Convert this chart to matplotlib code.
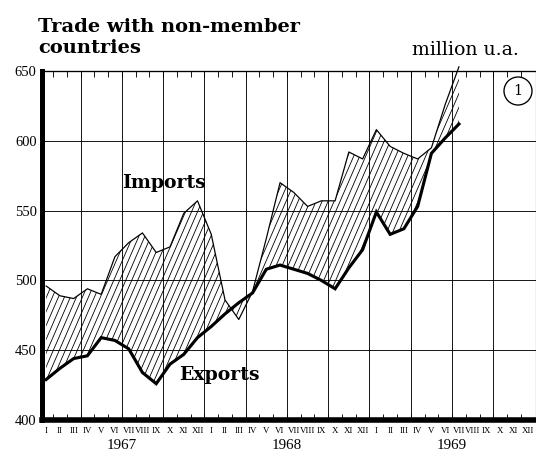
import matplotlib
matplotlib.use("Agg")
import matplotlib.pyplot as plt
from matplotlib.collections import LineCollection
from matplotlib.patches import Ellipse
import numpy as np

# monthly values, Jan 1967 .. Jul 1969 (million u.a.)
imports = [496, 489, 487, 494, 490, 517, 527, 534, 520, 524, 548, 557,
           533, 486, 472, 492, 530, 570, 563, 553, 557, 557, 592, 587,
           608, 596, 591, 587, 595, 626, 653]
exports = [429, 437, 444, 446, 459, 457, 451, 434, 426, 440, 447, 459,
           467, 476, 484, 491, 508, 511, 508, 505, 500, 494, 509, 522,
           549, 533, 537, 553, 591, 602, 612]
months = ['I', 'II', 'III', 'IV', 'V', 'VI', 'VII', 'VIII', 'IX', 'X', 'XI', 'XII']
years = ['1967', '1968', '1969']
yticks = [400, 450, 500, 550, 600, 650]

W, H, DPI = 536, 461, 80
fig = plt.figure(figsize=(W / DPI, H / DPI), dpi=DPI)
# axes box in pixels: left 42, right 536, top 71, bottom 420
ax = fig.add_axes([42 / W, (H - 420) / H, 494 / W, 349 / H])

x = np.arange(len(imports))
ax.set_xlim(-0.3, 35.6)
ax.set_ylim(400, 650)

# grid: quarters and every 50
for q in np.arange(2.5, 35, 3):
    ax.axvline(q, color='black', lw=0.8, zorder=1)
for v in yticks[1:-1]:
    ax.axhline(v, color='black', lw=0.8, zorder=1)

# hatched band between the two series
band = ax.fill_between(x, imports, exports, facecolor='none', edgecolor='none')
aw, ah = 494.0, 349.0
step = 6.0 / aw
dx = (ah / 2.3) / aw
segs = [[(x0, 0), (x0 + dx, 1)] for x0 in np.arange(-0.5, 1.05, step)]
hatch = LineCollection(segs, colors='black', linewidths=0.75,
                       transform=ax.transAxes, zorder=2)
ax.add_collection(hatch)
hatch.set_clip_path(band.get_paths()[0], ax.transData)

ax.plot(x, imports, color='black', lw=1.1, zorder=3, clip_on=False)
ax.plot(x, exports, color='black', lw=2.8, zorder=4, solid_joinstyle='miter')

# spines
ax.spines['left'].set_linewidth(4.5)
ax.spines['bottom'].set_linewidth(5)
ax.spines['top'].set_linewidth(1.2)
ax.spines['right'].set_linewidth(1.0)

# month ticks
ax.set_xticks(np.arange(36))
ax.set_xticklabels(months * 3, fontfamily='Liberation Serif', fontsize=8)
ax.tick_params(axis='x', which='major', length=0, pad=6)
ax.set_xticks(np.arange(0.5, 35, 1), minor=True)
ax.tick_params(axis='x', which='minor', direction='in', length=5, width=0.8,
               top=True, bottom=True)

ax.set_yticks(yticks)
ax.set_yticklabels([str(v) for v in yticks], fontfamily='Liberation Serif', fontsize=13)
ax.tick_params(axis='y', length=0, pad=5)

for k, yr in enumerate(years):
    ax.text(5.5 + 12 * k, -0.072, yr, transform=ax.get_xaxis_transform(),
            ha='center', va='center', fontfamily='Liberation Serif', fontsize=13.5)

ax.text(5.5, 566, 'Imports', fontfamily='DejaVu Serif', fontweight='bold',
        fontsize=17, va='baseline', ha='left', zorder=6)
ax.text(9.7, 429, 'Exports', fontfamily='DejaVu Serif', fontweight='bold',
        fontsize=17, va='baseline', ha='left', zorder=6)

fig.text(38 / W, 1 - 32 / H, 'Trade with non-member', fontfamily='DejaVu Serif',
         fontweight='bold', fontsize=17.5, va='baseline')
fig.text(38 / W, 1 - 53 / H, 'countries', fontfamily='DejaVu Serif',
         fontweight='bold', fontsize=17.5, va='baseline')
fig.text(412 / W, 1 - 55 / H, 'million u.a.', fontfamily='DejaVu Serif',
         fontsize=17, va='baseline')

ax.add_patch(Ellipse(((518 - 42) / aw, (420 - 91) / ah), 28 / aw, 28 / ah,
                     transform=ax.transAxes, facecolor='white', edgecolor='black',
                     lw=1.2, zorder=6, clip_on=False))
ax.text((518 - 42) / aw, (420 - 91) / ah, '1', transform=ax.transAxes,
        ha='center', va='center', fontfamily='DejaVu Serif', fontsize=13, zorder=7)

fig.savefig('out.png', dpi=DPI)
